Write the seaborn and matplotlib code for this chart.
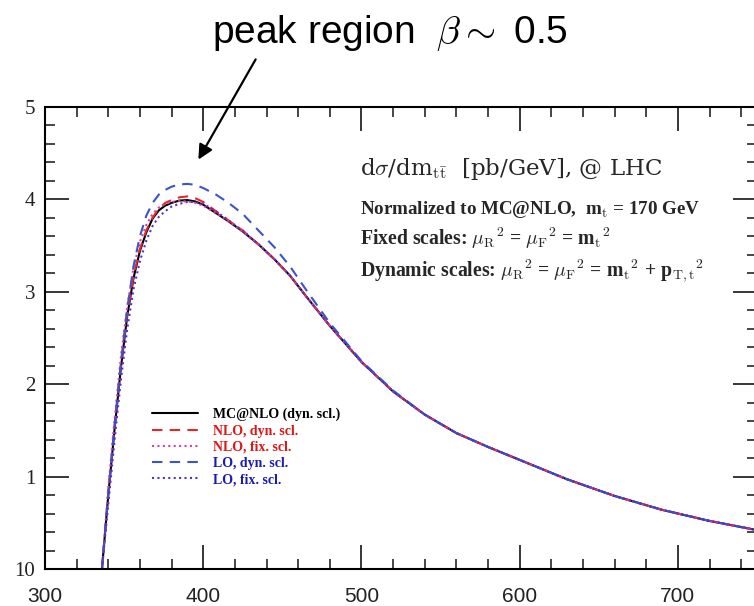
import matplotlib
matplotlib.use("Agg")
import matplotlib.pyplot as plt
import seaborn as sns
import pandas as pd
from matplotlib.ticker import MultipleLocator, FixedLocator

# ---- data ----
m_tt = [336, 340, 344, 348, 352, 356, 360, 364, 368, 372, 376, 380, 385, 390, 395,
        400, 408, 416, 425, 435, 445, 455, 465, 480, 500, 520, 540, 560, 580, 600,
        630, 660, 690, 720, 750]
mcnlo_dyn = [0.00, 0.80, 1.52, 2.18, 2.74, 3.15, 3.44, 3.64, 3.79, 3.88, 3.93, 3.96, 3.985, 3.99, 3.975,
             3.94, 3.85, 3.76, 3.65, 3.51, 3.35, 3.17, 2.95, 2.63, 2.24, 1.92, 1.67, 1.47, 1.32, 1.18,
             0.97, 0.79, 0.64, 0.52, 0.42]
nlo_dyn = [0.00, 0.82, 1.54, 2.20, 2.76, 3.17, 3.46, 3.66, 3.80, 3.90, 3.96, 3.99, 4.02, 4.03, 4.01,
           3.97, 3.87, 3.77, 3.66, 3.51, 3.35, 3.17, 2.95, 2.63, 2.24, 1.92, 1.67, 1.47, 1.32, 1.18,
           0.97, 0.79, 0.64, 0.52, 0.42]
nlo_fix = [0.00, 0.88, 1.62, 2.30, 2.84, 3.26, 3.54, 3.72, 3.84, 3.91, 3.95, 3.97, 3.98, 3.975, 3.96,
           3.93, 3.85, 3.76, 3.65, 3.51, 3.35, 3.17, 2.95, 2.63, 2.24, 1.92, 1.67, 1.47, 1.32, 1.18,
           0.97, 0.79, 0.64, 0.52, 0.42]
lo_dyn = [0.00, 0.82, 1.56, 2.24, 2.82, 3.28, 3.60, 3.82, 3.96, 4.05, 4.10, 4.135, 4.16, 4.165, 4.155,
          4.12, 4.05, 3.96, 3.84, 3.66, 3.48, 3.27, 3.02, 2.66, 2.25, 1.93, 1.67, 1.47, 1.32, 1.18,
          0.97, 0.79, 0.64, 0.52, 0.42]
lo_fix = [0.00, 0.70, 1.40, 2.05, 2.60, 3.03, 3.33, 3.55, 3.71, 3.81, 3.87, 3.92, 3.95, 3.97, 3.97,
          3.95, 3.87, 3.77, 3.66, 3.51, 3.35, 3.17, 2.95, 2.63, 2.24, 1.92, 1.67, 1.47, 1.32, 1.18,
          0.97, 0.79, 0.64, 0.52, 0.42]

series_labels = ["MC@NLO (dyn. scl.)", "NLO, dyn. scl.", "NLO, fix. scl.", "LO, dyn. scl.", "LO, fix. scl."]
x_ticks = [300, 400, 500, 600, 700]
y_ticks = [0, 1, 2, 3, 4, 5]
y_ticklabels = ["10", "1", "2", "3", "4", "5"]

# ---- styling ----
sns.set_theme(style="ticks")
plt.rcParams["font.family"] = ["Liberation Serif", "DejaVu Serif"]
plt.rcParams["mathtext.fontset"] = "cm"

W, H = 754, 606
fig = plt.figure(figsize=(W / 100, H / 100), dpi=100)
fig.patch.set_facecolor("white")
ax = fig.add_axes([45 / W, 37 / H, (757 - 45) / W, (569 - 106.7) / H])
ax.set_facecolor("white")

styles = [
    (mcnlo_dyn, "black", "-", None),
    (nlo_dyn, "#e02828", "--", (5, 3.5)),
    (nlo_fix, "#d8409c", ":", (1, 1.6)),
    (lo_dyn, "#3a55c8", "--", (5, 3.5)),
    (lo_fix, "#5530cc", ":", (1, 1.6)),
]
for (vals, col, ls, dash), lab in zip(styles, series_labels):
    df = pd.DataFrame({"m": m_tt, "v": vals})
    sns.lineplot(data=df, x="m", y="v", ax=ax, color=col, linewidth=1.5, label=lab)
    line = ax.lines[-1]
    if dash is not None:
        line.set_dashes(dash)

ax.set_xlim(300, 750)
ax.set_ylim(0, 5)
ax.set_xlabel("")
ax.set_ylabel("")

ax.xaxis.set_major_locator(FixedLocator(x_ticks))
ax.xaxis.set_minor_locator(MultipleLocator(20))
ax.yaxis.set_major_locator(FixedLocator(y_ticks))
ax.yaxis.set_minor_locator(MultipleLocator(0.2))
ax.set_xticklabels([str(t) for t in x_ticks], fontfamily="Liberation Sans", fontsize=15, color="#222222")
ax.set_yticklabels(y_ticklabels, fontsize=15, color="#222222")

ax.tick_params(which="major", direction="in", length=17, width=1.3, top=True, right=True)
ax.tick_params(which="minor", direction="in", length=7, width=1.2, top=True, right=True)
ax.tick_params(axis="x", which="major", pad=13)
ax.tick_params(axis="y", which="major", pad=7)
for sp in ax.spines.values():
    sp.set_visible(True)
    sp.set_linewidth(1.5)
    sp.set_color("black")

# legend
leg = ax.legend(loc="upper left", bbox_to_anchor=(152 / W, 1 - 408 / H),
                bbox_transform=fig.transFigure, frameon=False, borderpad=0, borderaxespad=0,
                handlelength=3.3, handletextpad=1.1, labelspacing=0.23,
                prop={"family": "Liberation Serif", "weight": "bold", "size": 10})
text_cols = ["black", "#e01515", "#e01515", "#1a1ab4", "#1a1ab4"]
for t, c in zip(leg.get_texts(), text_cols):
    t.set_color(c)

# text block in plot
def px(x, y):
    return x / W, 1 - y / H

fig.text(*px(360, 175), r"d$\sigma$/dm$_{\mathrm{t\bar{t}}}$  [pb/GeV], @ LHC",
         fontsize=16.5, family="DejaVu Serif", va="baseline", ha="left")
fig.text(*px(360, 214), r"Normalized to MC@NLO,  m$_\mathrm{t}$ = 170 GeV",
         fontsize=13.7, fontweight="bold", va="baseline", ha="left")
fig.text(*px(360, 245), r"Fixed scales: $\mu_\mathrm{R}{}^2$ = $\mu_\mathrm{F}{}^2$ = m$_\mathrm{t}{}^2$",
         fontsize=14.2, fontweight="bold", va="baseline", ha="left")
fig.text(*px(360, 277), r"Dynamic scales: $\mu_\mathrm{R}{}^2$ = $\mu_\mathrm{F}{}^2$ = m$_\mathrm{t}{}^2$ + p$_\mathrm{T,t}{}^2$",
         fontsize=14.2, fontweight="bold", va="baseline", ha="left")

# annotation above
fig.text(*px(390, 43), r"peak region  $\beta \sim$ 0.5", fontsize=28,
         family="Liberation Sans", va="baseline", ha="center", color="black")
fig.patches.append(matplotlib.patches.FancyArrowPatch(
    px(257, 57), px(197, 162), transform=fig.transFigure, arrowstyle="-|>",
    mutation_scale=22, linewidth=1.6, color="black"))

fig.savefig("out.png", dpi=100)
